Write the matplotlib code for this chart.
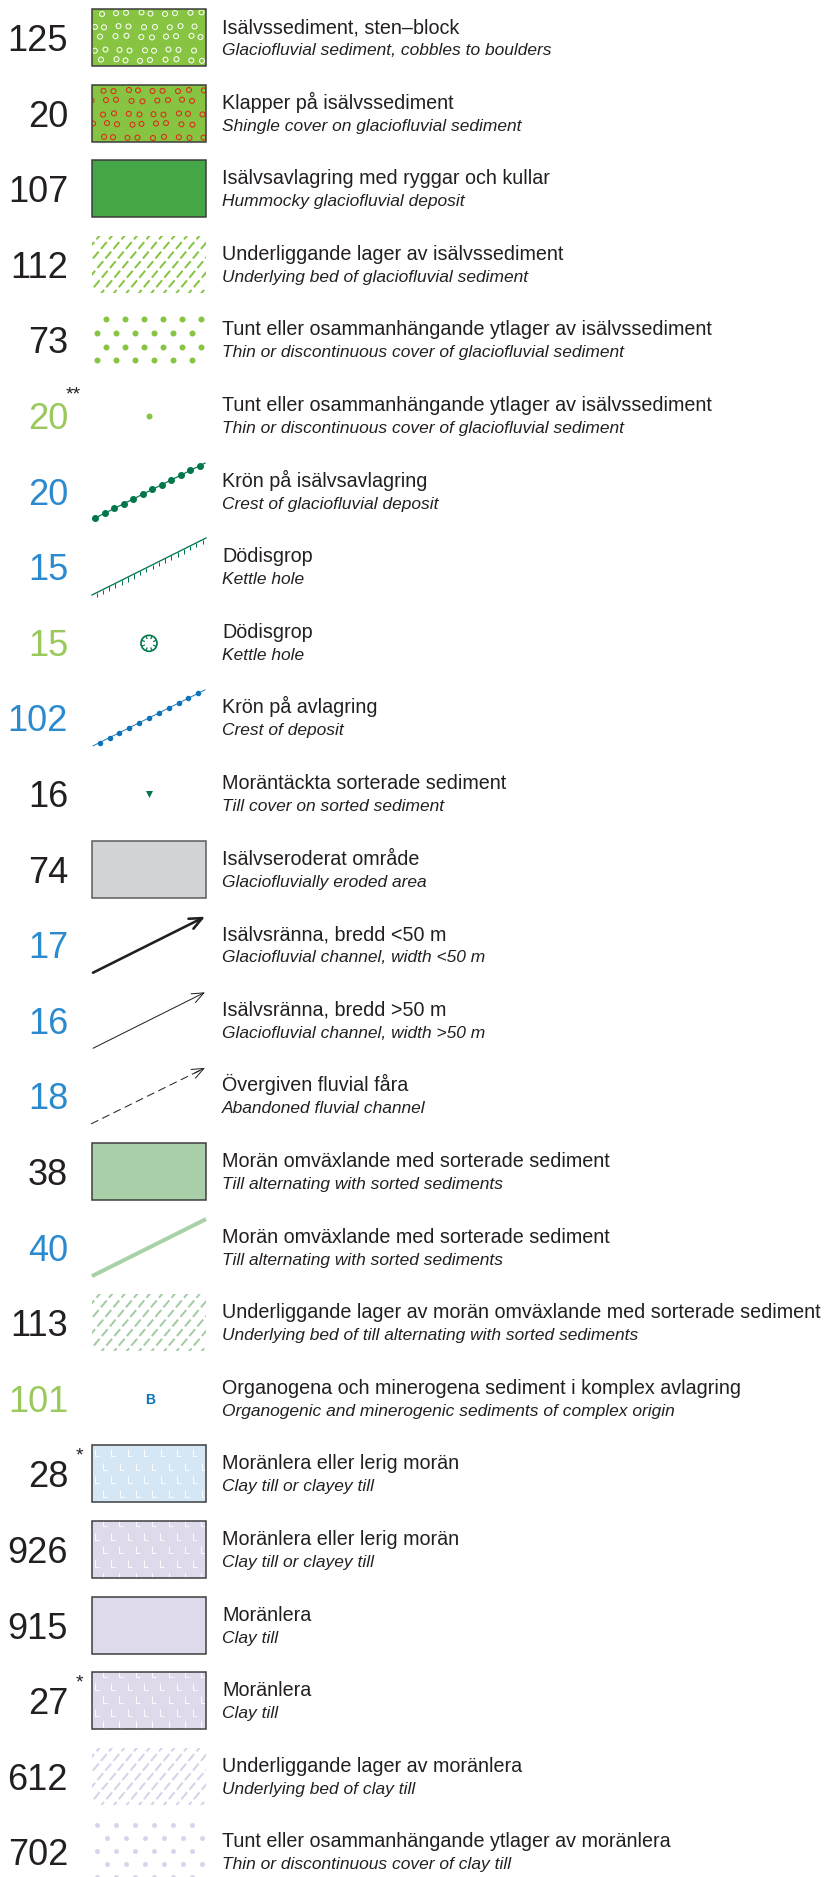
import matplotlib
matplotlib.use("Agg")
import matplotlib.pyplot as plt
import numpy as np
from matplotlib.patches import Rectangle, Circle
from matplotlib.collections import LineCollection

plt.rcParams['font.family'] = ['Liberation Sans', 'DejaVu Sans']
plt.rcParams['lines.scale_dashes'] = False

# legend data
codes = ['125', '20', '107', '112', '73', '20', '20', '15', '15', '102',
         '16', '74', '17', '16', '18', '38', '40', '113', '101', '28',
         '926', '915', '27', '612', '702']
code_colors = ['k', 'k', 'k', 'k', 'k', 'g', 'b', 'b', 'g', 'b',
               'k', 'k', 'b', 'b', 'b', 'k', 'b', 'k', 'g', 'k',
               'k', 'k', 'k', 'k', 'k']
stars = ['', '', '', '', '', '**', '', '', '', '',
         '', '', '', '', '', '', '', '', '', '*',
         '', '', '*', '', '']
sv_labels = [
    'Isälvssediment, sten–block',
    'Klapper på isälvssediment',
    'Isälvsavlagring med ryggar och kullar',
    'Underliggande lager av isälvssediment',
    'Tunt eller osammanhängande ytlager av isälvssediment',
    'Tunt eller osammanhängande ytlager av isälvssediment',
    'Krön på isälvsavlagring',
    'Dödisgrop',
    'Dödisgrop',
    'Krön på avlagring',
    'Moräntäckta sorterade sediment',
    'Isälvseroderat område',
    'Isälvsränna, bredd <50 m',
    'Isälvsränna, bredd >50 m',
    'Övergiven fluvial fåra',
    'Morän omväxlande med sorterade sediment',
    'Morän omväxlande med sorterade sediment',
    'Underliggande lager av morän omväxlande med sorterade sediment',
    'Organogena och minerogena sediment i komplex avlagring',
    'Moränlera eller lerig morän',
    'Moränlera eller lerig morän',
    'Moränlera',
    'Moränlera',
    'Underliggande lager av moränlera',
    'Tunt eller osammanhängande ytlager av moränlera',
]
en_labels = [
    'Glaciofluvial sediment, cobbles to boulders',
    'Shingle cover on glaciofluvial sediment',
    'Hummocky glaciofluvial deposit',
    'Underlying bed of glaciofluvial sediment',
    'Thin or discontinuous cover of glaciofluvial sediment',
    'Thin or discontinuous cover of glaciofluvial sediment',
    'Crest of glaciofluvial deposit',
    'Kettle hole',
    'Kettle hole',
    'Crest of deposit',
    'Till cover on sorted sediment',
    'Glaciofluvially eroded area',
    'Glaciofluvial channel, width <50 m',
    'Glaciofluvial channel, width >50 m',
    'Abandoned fluvial channel',
    'Till alternating with sorted sediments',
    'Till alternating with sorted sediments',
    'Underlying bed of till alternating with sorted sediments',
    'Organogenic and minerogenic sediments of complex origin',
    'Clay till or clayey till',
    'Clay till or clayey till',
    'Clay till',
    'Clay till',
    'Underlying bed of clay till',
    'Thin or discontinuous cover of clay till',
]
symbols = ['stones', 'stones', 'fill', 'hatch', 'dots', 'dot', 'crest', 'kettle_line',
           'kettle_point', 'crest', 'triangle', 'fill', 'arrow_thick', 'arrow_thin',
           'arrow_dashed', 'fill', 'line', 'hatch', 'letter', 'lfill', 'lfill', 'fill',
           'lfill', 'hatch', 'dots']

# styling
TXT = '#231f20'
NUM_COLORS = {'k': TXT, 'b': '#2b8ace', 'g': '#98c95a'}
style = {
    0: dict(fc='#86c442', mark='white'),
    1: dict(fc='#86c442', mark='#e2231a'),
    2: dict(fc='#45a648'),
    3: dict(color='#86c442'),
    4: dict(color='#86c442', rows=[-21, -7, 7, 20], first=106, size=6),
    5: dict(color='#86c442'),
    6: dict(color='#00784a', n=12, t0=0.02, t1=0.955, size=7, lw=1.2),
    7: dict(color='#00784a'),
    8: dict(color='#00784a'),
    9: dict(color='#0a73bb', n=11, t0=0.06, t1=0.94, size=5.5, lw=0.9),
    10: dict(color='#00784a'),
    11: dict(fc='#d1d3d4', ec='#58595b'),
    12: dict(lw=2.6),
    13: dict(lw=1.0),
    14: dict(lw=1.0),
    15: dict(fc='#a8cfa8'),
    16: dict(color='#a9d0a6'),
    17: dict(color='#a3cca3'),
    18: dict(color='#0a73bb'),
    19: dict(fc='#d5e7f5', rows=[-21, -7, 6, 20], first=95),
    20: dict(fc='#dedaec', rows=[-27, -13.5, 0, 13.5, 26.5], first=103),
    21: dict(fc='#dedaec'),
    22: dict(fc='#dedaec', rows=[-27.5, -14, -1.5, 11.5, 24], first=103),
    23: dict(color='#d6d2ea'),
    24: dict(color='#d8d4ec', rows=[-27, -14, -1, 12, 25], first=97, size=5),
}

W, H = 830, 1877
Y0, PITCH = 37.5, 75.6
BX0, BX1, BH = 92, 206, 57
PX = 0.72  # points per pixel

fig = plt.figure(figsize=(W / 100, H / 100), dpi=100)
ax = fig.add_axes([0, 0, 1, 1])
ax.set_xlim(0, W)
ax.set_ylim(H, 0)
ax.axis('off')


def box_clip(yc):
    return Rectangle((BX0, yc - BH / 2), BX1 - BX0, BH, transform=ax.transData)


def draw_box(yc, fc, ec='#3a3a3a'):
    ax.add_patch(Rectangle((BX0, yc - BH / 2), BX1 - BX0, BH, fc=fc, ec=ec,
                           lw=1.5 * PX, zorder=4))


for i, sym in enumerate(symbols):
    yc = Y0 + PITCH * i
    st = style[i]

    # code number on the left
    ax.text(68, yc + 13.5, codes[i], fontsize=26, color=NUM_COLORS[code_colors[i]],
            ha='right', va='baseline')
    if stars[i]:
        ax.text(86 - 10 * len(stars[i]), yc - 16 if len(stars[i]) == 2 else yc - 13,
                stars[i], fontsize=14, color=TXT, ha='left', va='baseline')

    # labels
    ax.text(222, yc - 4.5, sv_labels[i], fontsize=14.2, color=TXT, va='baseline')
    ax.text(222, yc + 17.5, en_labels[i], fontsize=12.5, color=TXT, style='italic',
            va='baseline')

    if sym == 'fill':
        draw_box(yc, st['fc'], st.get('ec', '#3a3a3a'))

    elif sym == 'stones':
        ax.add_patch(Rectangle((BX0, yc - BH / 2), BX1 - BX0, BH, fc=st['fc'], ec='none',
                               zorder=2))
        jit = [0.0, 1.5, -1.0, 2.0, -1.5, 0.5, -2.0, 1.0, -0.5, 1.8]
        xs, ys = [], []
        for j in range(5):
            y = yc - BH / 2 + 5 + 11.7 * j
            start = 102 if j % 2 == 0 else 93
            for k in range(9):
                xs.append(start + 12.5 * k + jit[(k + 3 * j + i) % 10])
                ys.append(y + 0.8 * jit[(2 * k + j + i) % 10])
        sc = ax.scatter(xs, ys, s=(5 * PX) ** 2, facecolors='none', edgecolors=st['mark'],
                        linewidths=1.0 * PX, zorder=3)
        sc.set_clip_path(box_clip(yc))
        ax.add_patch(Rectangle((BX0, yc - BH / 2), BX1 - BX0, BH, fc='none', ec='#3a3a3a',
                               lw=1.5 * PX, zorder=4))

    elif sym == 'hatch':
        bottom = yc + BH / 2 + 4
        h = BH + 10
        ang = np.deg2rad(50)
        dx = h / np.tan(ang)
        segs = [[(x, bottom), (x + dx, bottom - h)]
                for x in np.arange(BX0 - dx - 12.5, BX1 + 12.5, 12.5)]
        lc = LineCollection(segs, colors=st['color'], linewidths=2.0 * PX,
                            linestyles=[(0, (9 * PX, 3.5 * PX))], capstyle='butt', zorder=3)
        ax.add_collection(lc)
        lc.set_clip_path(box_clip(yc))

    elif sym == 'dots':
        xs, ys = [], []
        for j, dy in enumerate(st['rows']):
            start = st['first'] if j % 2 == 0 else st['first'] + (9.5 if st['first'] < 100 else -9.5)
            for k in range(6):
                xs.append(start + 19 * k)
                ys.append(yc + dy)
        ax.scatter(xs, ys, s=(st['size'] * PX) ** 2, color=st['color'], lw=0, zorder=3)

    elif sym == 'dot':
        ax.scatter([149], [yc], s=(6 * PX) ** 2, color=st['color'], lw=0, zorder=3)

    elif sym == 'crest':
        x0, x1 = BX0 + 1, BX1 - 1
        y0, y1 = yc + 28, yc - 28
        ax.plot([x0, x1], [y0, y1], color=st['color'], lw=st['lw'] * PX, zorder=3)
        t = np.linspace(st['t0'], st['t1'], st['n'])
        ax.scatter(x0 + (x1 - x0) * t, y0 + (y1 - y0) * t, s=(st['size'] * PX) ** 2,
                   color=st['color'], lw=0, zorder=3)

    elif sym == 'kettle_line':
        x0, x1 = BX0, BX1
        y0, y1 = yc + 28.3, yc - 28.7
        ax.plot([x0, x1], [y0, y1], color=st['color'], lw=1.3 * PX, zorder=3)
        t = np.linspace(0.04, 0.97, 18)
        tx = x0 + (x1 - x0) * t
        ty = y0 + (y1 - y0) * t
        ticks = [[(a, b), (a, b + 4.5)] for a, b in zip(tx, ty)]
        ax.add_collection(LineCollection(ticks, colors=st['color'], linewidths=1.0 * PX,
                                         zorder=3))

    elif sym == 'kettle_point':
        cx, cy = 149, yc + 1
        ax.add_patch(Circle((cx, cy), 8, fill=False, ec=st['color'], lw=1.7 * PX, zorder=3))
        a = np.deg2rad(np.arange(0, 360, 45) + 22.5)
        ticks = [[(cx + 8 * np.cos(v), cy + 8 * np.sin(v)),
                  (cx + 4.5 * np.cos(v), cy + 4.5 * np.sin(v))] for v in a]
        ax.add_collection(LineCollection(ticks, colors=st['color'], linewidths=1.2 * PX,
                                         zorder=3))

    elif sym == 'triangle':
        ax.scatter([149], [yc], marker='v', s=(7 * PX) ** 2, color=st['color'], lw=0,
                   zorder=3)

    elif sym.startswith('arrow'):
        x0, x1 = BX0 + 1, BX1 - 1
        y0, y1 = yc + 28, yc - 28
        if sym == 'arrow_dashed':
            x0 -= 2
            ax.plot([x0, x1 - 3], [y0, y1 + 1.5], color=TXT, lw=st['lw'] * PX,
                    ls=(0, (8 * PX, 4.5 * PX)), zorder=3)
        head = 'head_length=0.9,head_width=0.4' if sym == 'arrow_thick' else 'head_length=0.85,head_width=0.35'
        start = (x0, y0) if sym != 'arrow_dashed' else (x1 - 10, y1 + 5)
        ax.annotate('', xy=(x1, y1), xytext=start,
                    arrowprops=dict(arrowstyle='->,' + head, lw=st['lw'] * PX, color=TXT,
                                    shrinkA=0, shrinkB=0), zorder=3)

    elif sym == 'line':
        ax.plot([BX0, BX1], [yc + 29, yc - 28], color=st['color'], lw=4 * PX,
                solid_capstyle='butt', zorder=3)

    elif sym == 'letter':
        ax.text(150, yc + 1.5, 'B', fontsize=10, fontweight='bold', color=st['color'],
                ha='center', va='center')

    elif sym == 'lfill':
        ax.add_patch(Rectangle((BX0, yc - BH / 2), BX1 - BX0, BH, fc=st['fc'], ec='none',
                               zorder=2))
        segs = []
        for j, dy in enumerate(st['rows']):
            start = st['first'] if j % 2 == 0 else st['first'] - 8.2
            for k in range(-1, 9):
                x = start + 16.4 * k
                y = yc + dy
                segs.append([(x, y - 3.5), (x, y + 3.5), (x + 4, y + 3.5)])
        lc = LineCollection(segs, colors='white', linewidths=1.0 * PX, alpha=0.9, zorder=3)
        ax.add_collection(lc)
        lc.set_clip_path(box_clip(yc))
        ax.add_patch(Rectangle((BX0, yc - BH / 2), BX1 - BX0, BH, fc='none', ec='#3a3a3a',
                               lw=1.5 * PX, zorder=4))

fig.savefig('out.png', dpi=100)
